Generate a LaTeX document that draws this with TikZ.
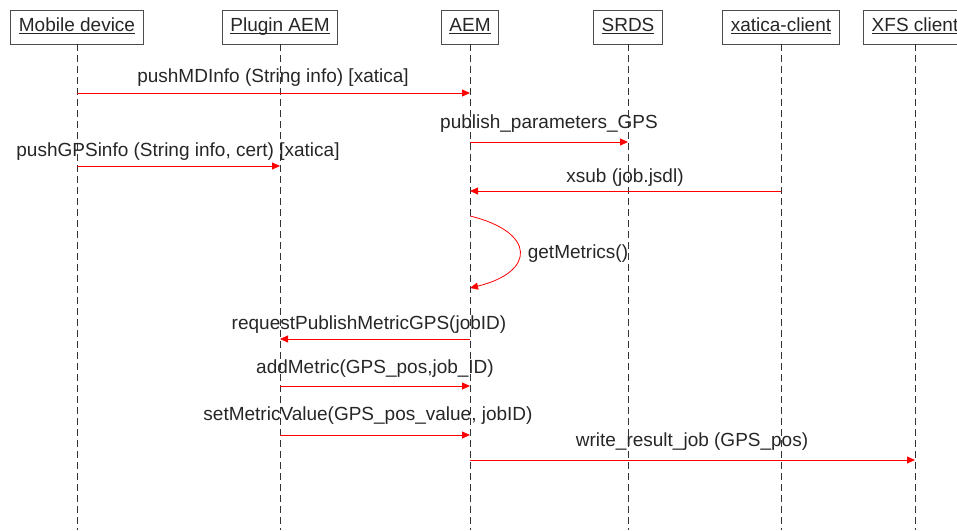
\documentclass[tikz,border=0pt]{standalone}
\usepackage{fontspec}
\setmainfont{Liberation Sans}
\usetikzlibrary{arrows.meta}
\newcommand\hdrul[1]{\setbox0\hbox{#1}\rlap{\rule[-2.6pt]{\wd0}{0.9pt}}\box0}
\begin{document}
\begin{tikzpicture}[x=1pt,y=-1pt,
 actor/.style={draw=black!70, fill=white, line width=0.9pt, minimum height=34pt, inner xsep=8pt, inner ysep=0pt, text height=14pt, text depth=5pt, font=\fontsize{19}{22}\selectfont, text=black!85},
 lifeline/.style={draw=black!80, line width=0.9pt, dash pattern=on 7pt off 4pt},
 msg/.style={draw=red, line width=0.8pt, -{Triangle[length=8pt,width=7pt]}},
 lbl/.style={font=\fontsize{19}{22}\selectfont, text=black!85, inner sep=0pt, anchor=base}]
\useasboundingbox (0,0) rectangle (957,530);
\begin{scope}
\clip (0,0) rectangle (957,530);
\coordinate (bot) at (0,530);
% actors
\node[actor] (md)  at (77,27)  {\hdrul{Mobile device}};
\node[actor] (pa)  at (280,27) {\hdrul{Plugin AEM}};
\node[actor] (aem) at (470,27) {\hdrul{AEM}};
\node[actor] (srds) at (628,27) {\hdrul{SRDS}};
\node[actor] (xc)  at (781,27) {\hdrul{xatica-client}};
\node[actor] (xfs) at (915,27) {\hdrul{XFS client}};
% lifelines
\foreach \n in {md,pa,aem,srds,xc,xfs}
  \draw[lifeline] (\n.south) -- (\n |- bot);
% messages
\draw[msg] (md |- 0,93) -- (aem |- 0,93);
\node[lbl] (l1) at (273,82) {pushMDInfo (String info) [xatica]};
\draw[msg] (aem |- 0,142) -- (srds |- 0,142);
\node[lbl] (l2) at (549,128) {publish\_parameters\_GPS};
\draw[msg] (md |- 0,166) -- (pa |- 0,166);
\node[lbl] (l3) at (178,156) {pushGPSinfo (String info, cert) [xatica]};
\draw[msg] (xc |- 0,191) -- (aem |- 0,191);
\node[lbl] (l4) at (625,182) {xsub (job.jsdl)};
\coordinate (g1) at (470,216);
\coordinate (g2) at (470,288);
\draw[msg] (g1) .. controls (536,232) and (536,272) .. (g2);
\node[lbl] (l5) at (578,258) {getMetrics()};
\draw[msg] (aem |- 0,339) -- (pa |- 0,339);
\node[lbl] (l6) at (369,329) {requestPublishMetricGPS(jobID)};
\draw[msg] (pa |- 0,386) -- (aem |- 0,386);
\node[lbl] (l7) at (375,373) {addMetric(GPS\_pos,job\_ID)};
\draw[msg] (pa |- 0,435) -- (aem |- 0,435);
\node[lbl] (l8) at (368,420) {setMetricValue(GPS\_pos\_value, jobID)};
\draw[msg] (aem |- 0,460) -- (xfs |- 0,460);
\node[lbl] (l9) at (692,446) {write\_result\_job (GPS\_pos)};
\end{scope}
\end{tikzpicture}
\end{document}
